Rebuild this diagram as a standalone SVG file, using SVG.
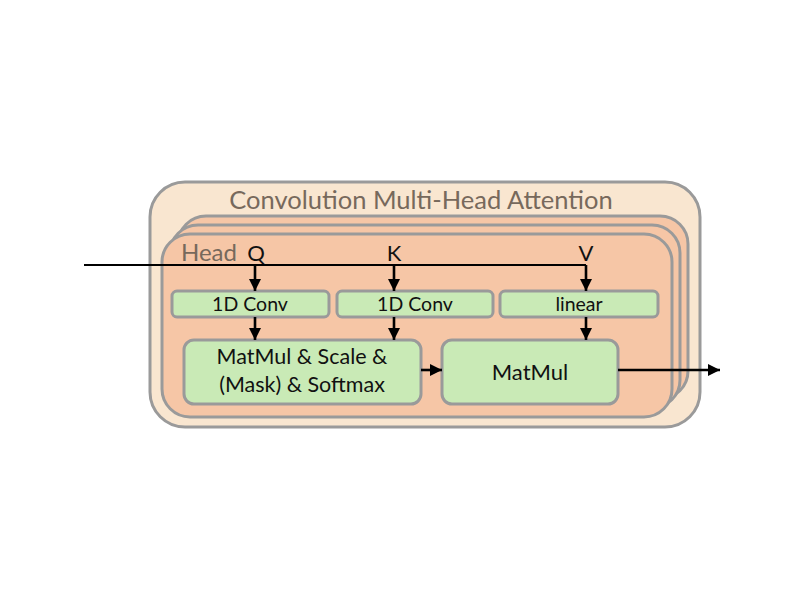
<svg xmlns="http://www.w3.org/2000/svg" width="800" height="600" viewBox="0 0 800 600">
<defs>
<marker id="ah" viewBox="0 0 10 10" refX="10" refY="5" markerWidth="4.8" markerHeight="4.8" markerUnits="strokeWidth" orient="auto">
<path d="M0,0 L10,5 L0,10 Z" fill="#000"/>
</marker>
</defs>
<style>
.outer{fill:#F9E6D0;stroke:#9a9a9a;stroke-width:3}
.layer{fill:#F6C6A6;stroke:#9a9a9a;stroke-width:3}
.box{fill:#C9EAB6;stroke:#9a9a9a;stroke-width:3}
.t{font-family:Lato,"Open Sans","Liberation Sans",sans-serif;fill:#111;text-anchor:middle}
.g{font-family:Lato,"Open Sans","Liberation Sans",sans-serif;fill:#77695c}
.c{stroke:#000;stroke-width:2;fill:none}
.ca{stroke:#000;stroke-width:2.6;fill:none;marker-end:url(#ah)}
</style>
<rect width="800" height="600" fill="#fff"/>
<g id="mha">
<rect class="outer" x="150" y="182" width="550" height="245" rx="35"/>
<text class="g" x="421" y="209" font-size="25.5" text-anchor="middle">Convolution Multi-Head Attention</text>
</g>
<g id="head-back2"><rect class="layer" x="178" y="216" width="510" height="183" rx="28"/></g>
<g id="head-back1"><rect class="layer" x="170" y="225" width="510" height="183" rx="28"/></g>
<g id="head">
<rect class="layer" x="162" y="234" width="510" height="183" rx="28"/>
<text class="g" x="181" y="261" font-size="24">Head</text>
</g>
<g id="q-label"><text class="t" x="256" y="261" font-size="22">Q</text></g>
<g id="k-label"><text class="t" x="394" y="261" font-size="22">K</text></g>
<g id="v-label"><text class="t" x="586" y="261" font-size="22">V</text></g>
<g id="conv-q">
<rect class="box" x="172" y="291" width="157" height="26" rx="5"/>
<text class="t" x="250" y="311" font-size="19.5">1D Conv</text>
</g>
<g id="conv-k">
<rect class="box" x="337" y="291" width="156" height="26" rx="5"/>
<text class="t" x="415" y="311" font-size="19.5">1D Conv</text>
</g>
<g id="linear-v">
<rect class="box" x="500" y="291" width="158" height="26" rx="5"/>
<text class="t" x="579" y="311" font-size="19.5">linear</text>
</g>
<g id="matmul-scale">
<rect class="box" x="184" y="340" width="237" height="64" rx="10"/>
<text class="t" x="302" y="364" font-size="21.5">MatMul &amp; Scale &amp;</text>
<text class="t" x="302" y="392" font-size="21.5">(Mask) &amp; Softmax</text>
</g>
<g id="matmul">
<rect class="box" x="442" y="340" width="176" height="64" rx="10"/>
<text class="t" x="530" y="380" font-size="22">MatMul</text>
</g>
<g id="connectors">
<path class="c" d="M84,265 H586"/>
<path class="ca" d="M255,265 V291"/>
<path class="ca" d="M394,265 V291"/>
<path class="ca" d="M586,265 V291"/>
<path class="ca" d="M255,317 V340"/>
<path class="ca" d="M394,317 V340"/>
<path class="ca" d="M586,317 V340"/>
<path class="ca" d="M421,370 H442"/>
<path class="ca" d="M618,370 H720" stroke-width="2.8"/>
</g>
</svg>
